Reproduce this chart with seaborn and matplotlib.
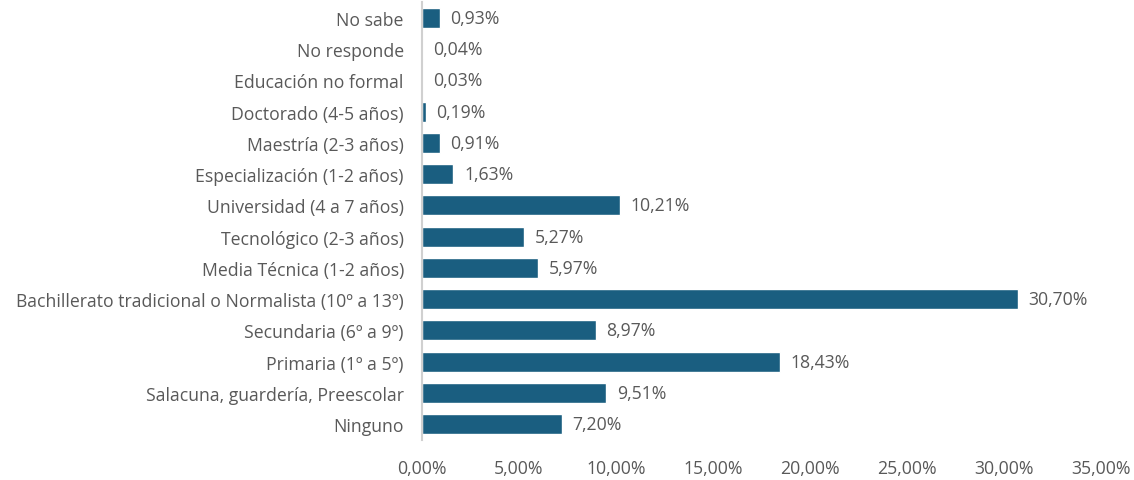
import pandas as pd
import numpy as np
import matplotlib.pyplot as plt
import seaborn as sns

sns.set_theme(style="white")
plt.rcParams["font.family"] = ["Open Sans", "DejaVu Sans"]

categories = [
    "No sabe",
    "No responde",
    "Educación no formal",
    "Doctorado (4-5 años)",
    "Maestría (2-3 años)",
    "Especialización (1-2 años)",
    "Universidad (4 a 7 años)",
    "Tecnológico (2-3 años)",
    "Media Técnica (1-2 años)",
    "Bachillerato tradicional o Normalista (10º a 13º)",
    "Secundaria (6º a 9º)",
    "Primaria (1º a 5º)",
    "Salacuna, guardería, Preescolar",
    "Ninguno",
]
values = [0.93, 0.04, 0.03, 0.19, 0.91, 1.63, 10.21, 5.27, 5.97, 30.70, 8.97, 18.43, 9.51, 7.20]
xticks = [0, 5, 10, 15, 20, 25, 30, 35]

data = pd.DataFrame({"nivel": categories, "pct": values})

bar_color = "#1a5e80"
text_color = "#595959"
fs = 12.7

fig = plt.figure(figsize=(11.34, 4.81), dpi=100)
ax = fig.add_axes([0.372, 0.084, 0.599, 0.909])

sns.barplot(data=data, x="pct", y="nivel", orient="h", color=bar_color,
            width=0.64, saturation=1, ax=ax)

for i, v in enumerate(values):
    ax.text(v + 0.55, i, f"{v:.2f}%".replace(".", ","), va="center", ha="left",
            fontsize=fs, color=text_color)

ax.set_xlim(0, 35)
ax.set_ylim(13.5, -0.5)
ax.set_xticks(xticks)
ax.set_xticklabels([f"{t:.2f}%".replace(".", ",") for t in xticks])
ax.tick_params(axis="both", length=0, labelsize=fs, labelcolor=text_color)
ax.tick_params(axis="x", pad=14)
ax.tick_params(axis="y", pad=13)
ax.set_xlabel("")
ax.set_ylabel("")

for s in ["top", "right", "bottom"]:
    ax.spines[s].set_visible(False)
ax.spines["left"].set_color("#d0d0d0")
ax.spines["left"].set_linewidth(1.5)

fig.savefig("out.png", dpi=100)
